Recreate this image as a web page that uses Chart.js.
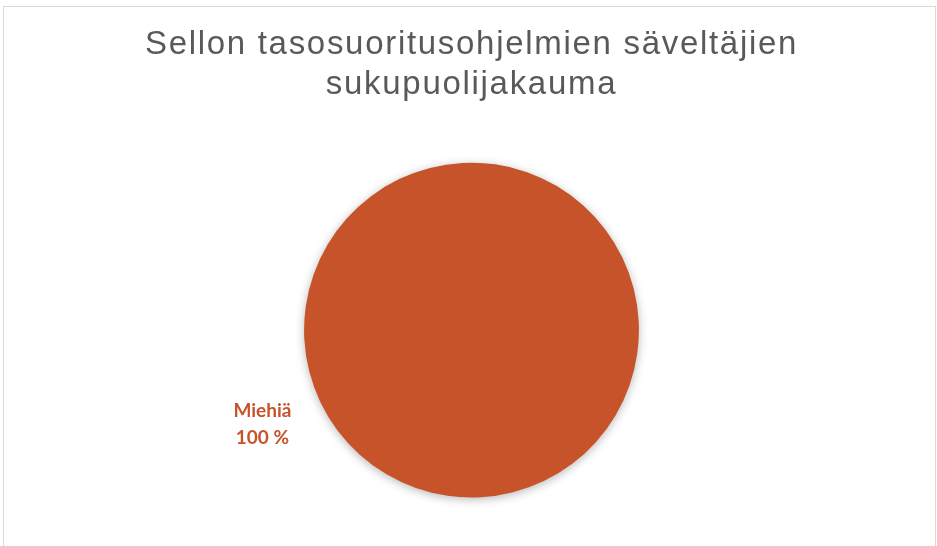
<!DOCTYPE html>
<html>
<head>
<meta charset="utf-8">
<script src="https://cdn.jsdelivr.net/npm/chart.js@4"></script>
<style>
  html, body { margin: 0; padding: 0; background: #fff; }
  #wrap { position: relative; width: 937px; height: 546px; }
  #frame {
    position: absolute; left: 3px; top: 6px; width: 931px; height: 560px;
    border: 1px solid #d9d9d9; pointer-events: none;
  }
  canvas { display: block; }
</style>
</head>
<body>
<div id="wrap">
  <canvas id="genderPie" width="937" height="546"></canvas>
  <div id="frame"></div>
</div>
<script>
// composers of the cello level-exam repertoire, by gender
const categories = ['Miehiä'];
const shares = [100];
const sliceColors = ['#c65329'];
const titleLines = ['Sellon tasosuoritusohjelmien säveltäjien', 'sukupuolijakauma'];

// wider tracking for the title text, reset before the pie is drawn
const titleTracking = {
  id: 'titleTracking',
  beforeDraw(chart) {
    chart.ctx.letterSpacing = '1.7px';
  },
  beforeDatasetsDraw(chart) {
    chart.ctx.letterSpacing = '0px';
  }
};

// soft drop shadow under the pie
const pieShadow = {
  id: 'pieShadow',
  beforeDatasetsDraw(chart) {
    const c = chart.ctx;
    c.save();
    c.shadowColor = 'rgba(0,0,0,0.28)';
    c.shadowBlur = 10;
    c.shadowOffsetY = 2;
  },
  afterDatasetsDraw(chart) {
    chart.ctx.restore();
  }
};

// category name + percentage outside each slice
const outsideLabels = {
  id: 'outsideLabels',
  afterDraw(chart) {
    const c = chart.ctx;
    const meta = chart.getDatasetMeta(0);
    const data = chart.data.datasets[0].data;
    const total = data.reduce((a, b) => a + b, 0);
    meta.data.forEach((arc, i) => {
      const mid = (arc.startAngle + arc.endAngle) / 2;
      const d = arc.outerRadius * 1.385;
      const x = arc.x + Math.cos(mid) * d;
      const y = arc.y + Math.sin(mid) * d;
      const pct = Math.round(data[i] / total * 100) + ' %';
      c.save();
      c.letterSpacing = '0px';
      c.fillStyle = sliceColors[i];
      c.font = 'bold 19px Lato, "Open Sans", sans-serif';
      c.textAlign = 'center';
      c.textBaseline = 'alphabetic';
      c.fillText(chart.data.labels[i], x, y - 13.5);
      c.fillText(pct, x, y + 13.5);
      c.restore();
    });
  }
};

new Chart(document.getElementById('genderPie'), {
  type: 'pie',
  data: {
    labels: categories,
    datasets: [{
      data: shares,
      backgroundColor: sliceColors,
      borderWidth: 0
    }]
  },
  options: {
    responsive: false,
    animation: false,
    rotation: 64.4,
    layout: { padding: { top: 0, bottom: 48.5, left: 6, right: 0 } },
    plugins: {
      legend: { display: false },
      tooltip: { enabled: false },
      title: {
        display: true,
        text: titleLines,
        color: '#595959',
        font: { family: '"Liberation Sans", Arial, sans-serif', size: 33, weight: 'normal', lineHeight: 1.23 },
        padding: { top: 24.5, bottom: 57 }
      }
    }
  },
  plugins: [titleTracking, pieShadow, outsideLabels]
});
</script>
</body>
</html>
